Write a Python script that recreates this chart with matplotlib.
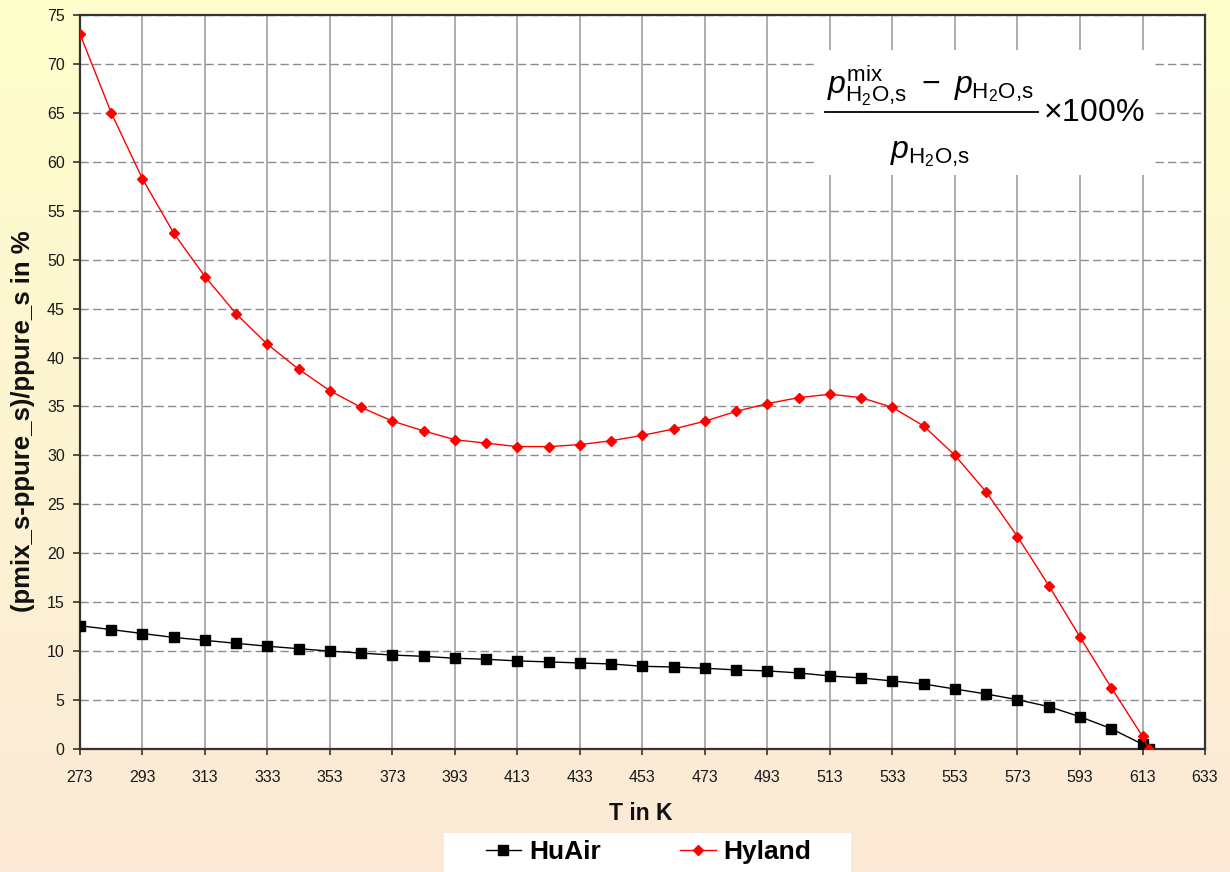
import numpy as np
import matplotlib
matplotlib.use("Agg")
import matplotlib.pyplot as plt
from matplotlib.patches import Rectangle
from matplotlib.lines import Line2D

plt.rcParams['font.family'] = ['Liberation Sans', 'DejaVu Sans']
plt.rcParams['mathtext.fontset'] = 'custom'
plt.rcParams['mathtext.rm'] = 'Liberation Sans'
plt.rcParams['mathtext.it'] = 'Liberation Sans:italic'
plt.rcParams['mathtext.bf'] = 'Liberation Sans:bold'

# Temperature in K
T = [273, 283, 293, 303, 313, 323, 333, 343, 353, 363, 373, 383, 393, 403,
     413, 423, 433, 443, 453, 463, 473, 483, 493, 503, 513, 523, 533, 543,
     553, 563, 573, 583, 593, 603, 613, 615]

# deviation of saturation pressure in %
huair = [12.6, 12.2, 11.8, 11.4, 11.1, 10.8, 10.5, 10.25, 10.0, 9.8, 9.6, 9.47,
         9.27, 9.17, 9.0, 8.9, 8.79, 8.69, 8.45, 8.38, 8.25, 8.08, 7.98, 7.77,
         7.46, 7.26, 6.95, 6.64, 6.13, 5.62, 5.04, 4.33, 3.3, 2.08, 0.48, 0.0]
hyland = [73.05, 65.0, 58.25, 52.7, 48.27, 44.45, 41.35, 38.8, 36.6, 34.9, 33.5,
          32.5, 31.6, 31.25, 30.9, 30.9, 31.1, 31.5, 32.05, 32.7, 33.5, 34.5,
          35.3, 35.9, 36.25, 35.9, 34.9, 33.0, 30.0, 26.25, 21.7, 16.7, 11.45,
          6.27, 1.3, 0.0]

xticks = list(range(273, 634, 20))
yticks = list(range(0, 76, 5))

W, H = 1230, 872
fig = plt.figure(figsize=(W / 100, H / 100), dpi=100)

# background gradient (light yellow -> peach)
top = np.array([255, 255, 204]) / 255
bot = np.array([251, 233, 215]) / 255
s = np.linspace(0, 1, 256)[:, None, None]
grad = top * (1 - s) + bot * s
bg = fig.add_axes([0, 0, 1, 1], zorder=-10)
bg.imshow(grad, aspect='auto', extent=[0, 1, 0, 1])
bg.axis('off')

# plot area in pixels: x 80..1205, y 15..749
ax = fig.add_axes([80 / W, 1 - 749 / H, 1125 / W, 734 / H])
ax.set_facecolor('white')
ax.set_axisbelow(True)

ax.plot(T, huair, color='black', lw=1, marker='s', ms=6.5,
        mec='black', mfc='black', label='HuAir', zorder=3)
ax.plot(T, hyland, color='red', lw=1, marker='D', ms=5.2,
        mec='red', mfc='red', label='Hyland', zorder=4)

ax.set_xlim(273, 633)
ax.set_ylim(0, 75)
ax.set_xticks(xticks)
ax.set_yticks(yticks)
ax.grid(axis='x', color='#a0a0a0', lw=1.2, ls='-')
ax.grid(axis='y', color='#8c8c8c', lw=1, ls=(0, (6, 3)))

for sp in ax.spines.values():
    sp.set_color('#333333')
    sp.set_linewidth(1.6)
ax.tick_params(axis='x', direction='out', length=4, width=1.2, color='#333333',
               labelsize=11.5, pad=11, labelcolor='#1a1a1a')
ax.tick_params(axis='y', direction='out', length=5, width=1.2, color='#333333',
               labelsize=11.5, pad=6, labelcolor='#1a1a1a')

ax.set_xlabel('T in K', fontsize=16.5, fontweight='bold', color='#111111')
ax.xaxis.set_label_coords(0.4987, -0.072)
fig.text(23 / W, 1 - 421 / H, '(pmix_s-ppure_s)/ppure_s in %', rotation=90,
         ha='center', va='center', fontsize=18.5, fontweight='bold',
         color='#111111')

# formula box (white, hides the grid)
ax.add_patch(Rectangle((0.655, 0.782), 0.299, 0.170, transform=ax.transAxes,
                       facecolor='white', edgecolor='none', zorder=1))
sub = r'\mathrm{H_2O{,}s}'
fsz = 23
fig.text(930 / W, 1 - 94 / H, r'$p^{\mathrm{mix}}_{%s}\ -\ p_{%s}$' % (sub, sub),
         ha='center', va='baseline', fontsize=fsz, zorder=5)
fig.text(930 / W, 1 - 158 / H, r'$p_{%s}$' % sub,
         ha='center', va='baseline', fontsize=fsz, zorder=5)
fig.add_artist(Line2D([825 / W, 1038 / W], [1 - 112 / H, 1 - 112 / H],
                      transform=fig.transFigure, color='black', lw=1.3,
                      zorder=5))
fig.text(1043 / W, 1 - 121 / H, r'$\times$100%',
         ha='left', va='baseline', fontsize=fsz, zorder=5)

# legend with white box at the bottom edge
fig.add_artist(Rectangle((444 / W, 0), 407 / W, 39 / H, transform=fig.transFigure,
                         facecolor='white', edgecolor='none', zorder=1))
handles, labels = ax.get_legend_handles_labels()
fig.legend(handles, labels, loc='center', ncol=2, frameon=False,
           bbox_to_anchor=(648.5 / W, 1 - 852 / H),
           prop={'size': 19, 'weight': 'bold'}, handlelength=1.35,
           handletextpad=0.3, columnspacing=3.0)

fig.savefig('out.png', dpi=100)
